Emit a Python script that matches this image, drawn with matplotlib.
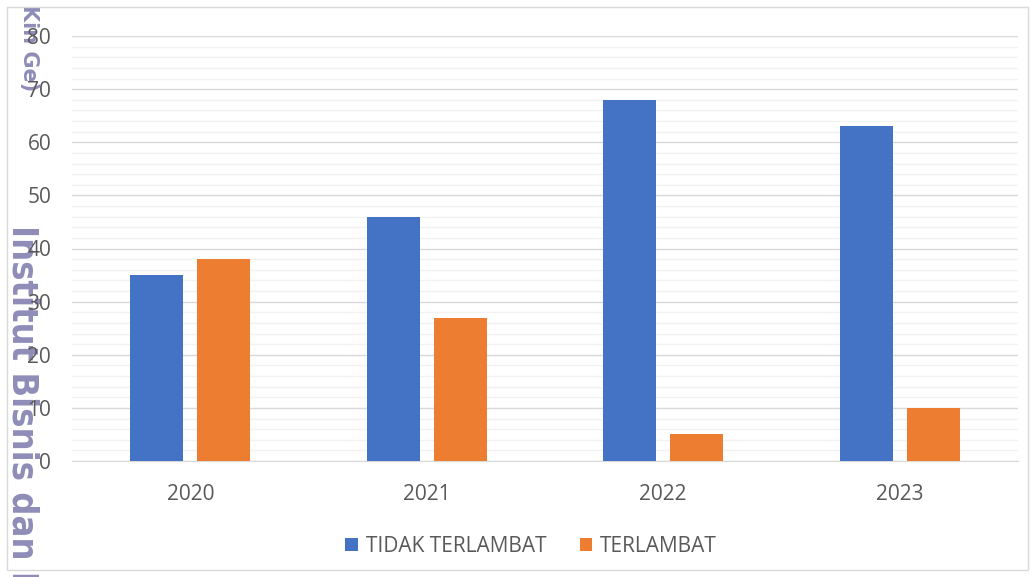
import matplotlib
matplotlib.use("Agg")
import matplotlib.pyplot as plt
import numpy as np
from matplotlib.patches import Rectangle
from matplotlib import font_manager

years = ["2020", "2021", "2022", "2023"]
tidak_terlambat = [35, 46, 68, 63]
terlambat = [38, 27, 5, 10]
series_names = ["TIDAK TERLAMBAT", "TERLAMBAT"]
y_ticks = [0, 10, 20, 30, 40, 50, 60, 70, 80]
wm_big = "Institut Bisnis dan Informatika"
wm_small = "Kin Ge)"

plt.rcParams['font.family'] = ['Open Sans', 'DejaVu Sans']
W, H = 1035, 577
fig = plt.figure(figsize=(W/100, H/100), dpi=100)
fig.patch.set_facecolor('white')

ax = fig.add_axes([72/W, 1-461/H, 946/W, (461-36)/H])
x = np.arange(len(years))
bw = 0.224
off = 0.142
ax.bar(x - off, tidak_terlambat, bw, color='#4472C4', label=series_names[0], zorder=3)
ax.bar(x + off, terlambat, bw, color='#ED7D31', label=series_names[1], zorder=3)

ax.set_xlim(-0.5, 3.5)
ax.set_ylim(0, 80)
ax.set_yticks(y_ticks)
ax.set_yticks(np.arange(0, 81, 2), minor=True)
ax.set_xticks(x)
ax.set_xticklabels(years)
ax.grid(axis='y', which='major', color='#D9D9D9', linewidth=1, zorder=0)
ax.grid(axis='y', which='minor', color='#F2F2F2', linewidth=1, zorder=0)
for s in ['top', 'right', 'left']:
    ax.spines[s].set_visible(False)
ax.spines['bottom'].set_color('#D9D9D9')
ax.tick_params(axis='both', which='both', length=0, colors='#595959', labelsize=15)
ax.tick_params(axis='y', pad=15)
ax.tick_params(axis='x', pad=16.5)

leg = fig.legend(loc='center', bbox_to_anchor=(531/W, 1-546.5/H), ncol=2, frameon=False,
                 fontsize=15, handlelength=0.62, handleheight=0.62, columnspacing=1.6,
                 handletextpad=0.35)
for t in leg.get_texts():
    t.set_color('#595959')

# outer border
fig.patches.append(Rectangle((7/W, 7/H), 1021/W, 563/H, transform=fig.transFigure,
                             fill=False, edgecolor='#D9D9D9', linewidth=1))

# watermark font: prefer a condensed bold DejaVu if present
wm_kw = dict(family='DejaVu Sans', weight='bold')
for f in font_manager.fontManager.ttflist:
    if f.name == 'DejaVu Sans' and 'condensed' in str(f.stretch).lower() and f.weight in (700, 'bold'):
        wm_kw['stretch'] = 'condensed'
        break

wm_color = '#8F8DB8'
t_small = fig.text(23/W, 1-5/H, wm_small, rotation=-90, rotation_mode='anchor',
                   ha='left', va='baseline', fontsize=15, color=wm_color,
                   zorder=-1, family='DejaVu Sans', weight='bold')
t_big = fig.text(12/W, 1-225/H, wm_big, rotation=-90, rotation_mode='anchor',
                 ha='left', va='baseline', fontsize=28, color=wm_color,
                 zorder=-1, **wm_kw)

# scale big watermark so "Institut Bisnis dan" spans ~335 px
fig.canvas.draw()
probe = fig.text(0, 0, "Institut Bisnis dan", fontsize=28, **wm_kw)
r = fig.canvas.get_renderer()
wlen = probe.get_window_extent(r).width
probe.remove()
t_big.set_fontsize(28 * 335 / wlen)

fig.savefig("out.png", dpi=100)
